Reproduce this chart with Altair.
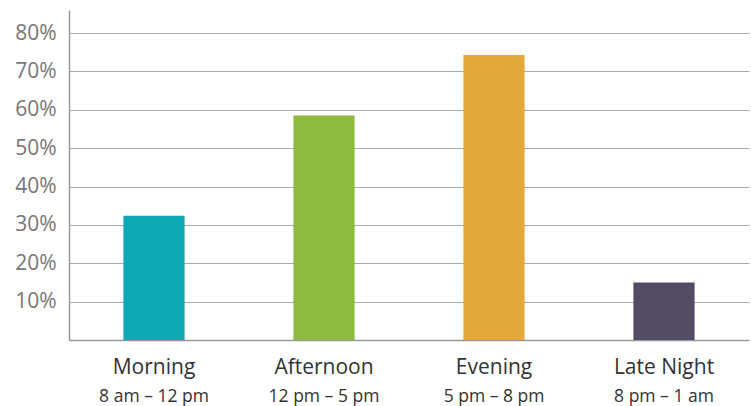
import altair as alt
import pandas as pd

categories = ["Morning", "Afternoon", "Evening", "Late Night"]
time_ranges = ["8 am – 12 pm", "12 pm – 5 pm", "5 pm – 8 pm", "8 pm – 1 am"]
values = [32.4, 58.5, 74.3, 15.0]
colors = ["#0FA8B5", "#8DBB3F", "#E4A73A", "#544B66"]
y_ticks = [10, 20, 30, 40, 50, 60, 70, 80]

df = pd.DataFrame({"cat": categories, "range": time_ranges, "value": values, "color": colors})

FONT = "Open Sans"

x_enc = alt.X("cat:N", sort=categories,
              scale=alt.Scale(paddingInner=0.64, paddingOuter=0.32),
              axis=alt.Axis(title=None, labels=False, ticks=False, domain=True,
                            domainColor="#999999", domainWidth=1.5, grid=False))

bars = alt.Chart(df).mark_bar().encode(
    x=x_enc,
    y=alt.Y("value:Q", scale=alt.Scale(domain=[0, 86], nice=False),
            axis=alt.Axis(title=None, values=y_ticks, labelExpr="datum.value + '%'",
                          ticks=False, labelPadding=13, labelFontSize=21, labelColor="#777777",
                          labelFont=FONT, domainColor="#999999", domainWidth=1.5,
                          grid=True, gridColor="#AAAAAA", gridWidth=1.2)),
    color=alt.Color("color:N", scale=None),
)

label1 = alt.Chart(df).mark_text(fontSize=21, font=FONT, color="#333333",
                                 baseline="alphabetic", align="center").encode(
    x=alt.X("cat:N", sort=categories), y=alt.value(364), text="cat:N")

label2 = alt.Chart(df).mark_text(fontSize=17.5, font=FONT, color="#333333",
                                 baseline="alphabetic", align="center").encode(
    x=alt.X("cat:N", sort=categories), y=alt.value(392), text="range:N")

chart = alt.layer(bars, label1, label2).properties(
    width=680, height=330,
    autosize=alt.AutoSizeParams(type="none"),
    padding={"left": 69, "top": 10, "right": 2, "bottom": 66},
).configure(background="white").configure_view(stroke=None)

chart.save("out.html", embed_options={"renderer": "svg", "actions": False})
